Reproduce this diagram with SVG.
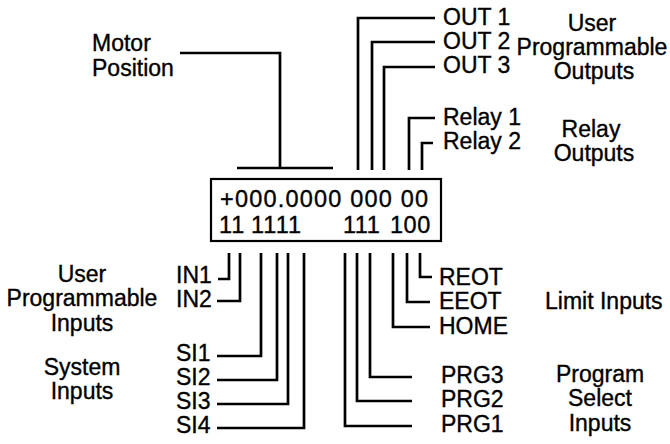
<svg xmlns="http://www.w3.org/2000/svg" width="670" height="444" viewBox="0 0 670 444">
<style>
text{font-family:"Liberation Sans",Arial,sans-serif;font-size:23px;fill:#000;stroke:#000;stroke-width:0.35}
.c{text-anchor:middle}
.d{font-size:23.5px}
.ln{fill:none;stroke:#000;stroke-width:2.7;stroke-linejoin:miter;stroke-linecap:butt}
</style>
<rect width="670" height="444" fill="#fff"/>
<g id="display">
<rect x="211" y="179" width="230" height="62" fill="none" stroke="#000" stroke-width="2.2"/>
<text class="d" x="220" y="207" textLength="208" lengthAdjust="spacing">+000.0000 000 00</text>
<text class="d" x="219" y="233" letter-spacing="1">11</text>
<text class="d" x="251" y="233" letter-spacing="1">1111</text>
<text class="d" x="343" y="233" letter-spacing="0.5">111</text>
<text class="d" x="390" y="233" letter-spacing="0.5">100</text>
</g>
<g id="connectors" class="ln">
<path d="M180 53H280V168M237 168H333"/>
<path d="M358 170V18H435"/>
<path d="M372 170V42H435"/>
<path d="M384 170V67H435"/>
<path d="M409 170V118H435"/>
<path d="M422 170V143H433"/>
<path d="M229 253V279H218"/>
<path d="M240 253V301H217"/>
<path d="M261 253V356H217"/>
<path d="M277 253V380H217"/>
<path d="M288 253V404H217"/>
<path d="M304 253V428H217"/>
<path d="M345 253V426H412"/>
<path d="M357 253V401H412"/>
<path d="M370 253V377H412"/>
<path d="M393 253V327H430"/>
<path d="M407 253V302H430"/>
<path d="M420 253V277H432"/>
</g>
<g id="motor-position"><text x="92" y="51">Motor</text><text x="92" y="76">Position</text></g>
<g id="out1"><text x="443" y="25">OUT 1</text></g>
<g id="out2"><text x="443" y="49">OUT 2</text></g>
<g id="out3"><text x="443" y="73">OUT 3</text></g>
<g id="relay1"><text x="443" y="125">Relay 1</text></g>
<g id="relay2"><text x="443" y="149">Relay 2</text></g>
<g id="user-prog-outputs"><text class="c" x="592" y="31">User</text><text class="c" x="592" y="55">Programmable</text><text class="c" x="594" y="79">Outputs</text></g>
<g id="relay-outputs"><text class="c" x="591" y="137">Relay</text><text class="c" x="594" y="161">Outputs</text></g>
<g id="in1"><text x="176" y="283">IN1</text></g>
<g id="in2"><text x="176" y="307">IN2</text></g>
<g id="si1"><text x="176" y="361">SI1</text></g>
<g id="si2"><text x="176" y="385">SI2</text></g>
<g id="si3"><text x="176" y="409">SI3</text></g>
<g id="si4"><text x="176" y="433">SI4</text></g>
<g id="user-prog-inputs"><text class="c" x="82" y="282">User</text><text class="c" x="82" y="306">Programmable</text><text class="c" x="82" y="331">Inputs</text></g>
<g id="system-inputs"><text class="c" x="82" y="375">System</text><text class="c" x="82" y="399">Inputs</text></g>
<g id="reot"><text x="439" y="285">REOT</text></g>
<g id="eeot"><text x="439" y="309">EEOT</text></g>
<g id="home"><text x="439" y="334">HOME</text></g>
<g id="prg3"><text x="441" y="383">PRG3</text></g>
<g id="prg2"><text x="441" y="407">PRG2</text></g>
<g id="prg1"><text x="441" y="432">PRG1</text></g>
<g id="limit-inputs"><text x="545" y="309">Limit Inputs</text></g>
<g id="program-select-inputs"><text class="c" x="600" y="382">Program</text><text class="c" x="600" y="406">Select</text><text class="c" x="600" y="431">Inputs</text></g>
</svg>
